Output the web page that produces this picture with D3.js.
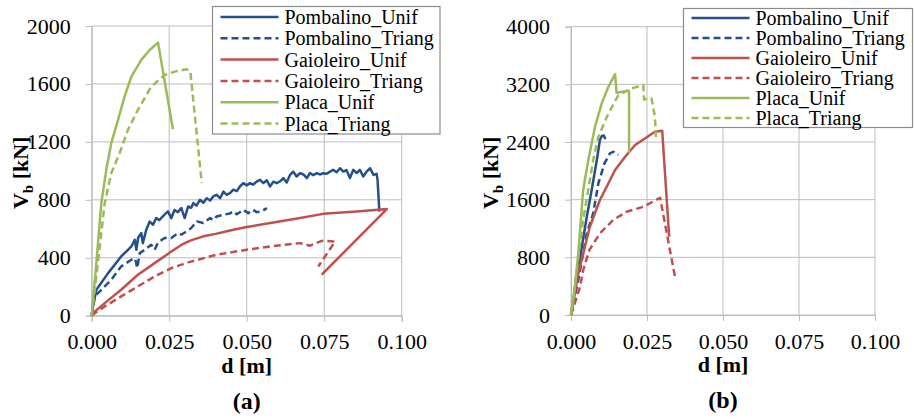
<!DOCTYPE html>
<html>
<head>
<meta charset="utf-8">
<script src="https://cdn.jsdelivr.net/npm/d3@7/dist/d3.min.js"></script>
<style>
  body { margin: 0; background: #fff; }
  text { font-family: "Liberation Serif", "Times New Roman", serif; }
</style>
</head>
<body>
<script>

// series names + colours (same for both panels)
var seriesNames = ["Pombalino_Unif","Pombalino_Triang","Gaioleiro_Unif","Gaioleiro_Triang","Placa_Unif","Placa_Triang"];
var seriesColors = ["#254f8c","#254f8c","#c0504d","#c0504d","#9bbb59","#9bbb59"];
var seriesDashed = [false,true,false,true,false,true];

var xTicks = [0, 0.025, 0.05, 0.075, 0.1];
var yTicksA = [0, 400, 800, 1200, 1600, 2000];
var yTicksB = [0, 800, 1600, 2400, 3200, 4000];

// panel (a) : [d, Vb]
var a_pombUnif = [[0,0],[0.0004,64],[0.0015,179],[0.0053,294],[0.0095,409],[0.0117,455],[0.0128,478],[0.0139,524],[0.0144,455],[0.0150,540],[0.0160,570],[0.0165,501],[0.0176,593],[0.0187,650],[0.0198,628],[0.0208,674],[0.0218,660],[0.0235,697],[0.0246,720],[0.0257,674],[0.0267,730],[0.0278,715],[0.0289,743],[0.0300,674],[0.0311,754],[0.0321,745],[0.0328,777],[0.0338,760],[0.0349,800],[0.0360,780],[0.0371,811],[0.0382,795],[0.0392,823],[0.0403,834],[0.0414,811],[0.0425,857],[0.0435,835],[0.0446,846],[0.0457,870],[0.0468,860],[0.0478,892],[0.0489,915],[0.0500,900],[0.0511,915],[0.0521,905],[0.0532,926],[0.0543,938],[0.0554,915],[0.0565,935],[0.0575,892],[0.0586,925],[0.0597,915],[0.0608,928],[0.0618,950],[0.0629,920],[0.0640,973],[0.0650,995],[0.0661,961],[0.0672,984],[0.0683,975],[0.0694,950],[0.0704,984],[0.0715,970],[0.0726,984],[0.0736,975],[0.0747,984],[0.0758,980],[0.0769,995],[0.0779,1007],[0.0790,990],[0.0801,1018],[0.0812,995],[0.0822,1005],[0.0833,950],[0.0844,1007],[0.0855,985],[0.0865,1007],[0.0876,961],[0.0887,995],[0.0898,1018],[0.0909,972],[0.0919,979],[0.0922,940],[0.0928,719]];
var a_pombTri = [[0,0],[0.0010,133],[0.0031,179],[0.0063,248],[0.0095,340],[0.0128,386],[0.0140,395],[0.0147,329],[0.0155,432],[0.0171,455],[0.0192,490],[0.0203,455],[0.0214,505],[0.0235,536],[0.0257,536],[0.0278,570],[0.0290,560],[0.0321,605],[0.0339,651],[0.0360,640],[0.0382,674],[0.0392,660],[0.0403,685],[0.0425,697],[0.0445,705],[0.0457,720],[0.0468,700],[0.0489,731],[0.0505,708],[0.0521,731],[0.0532,715],[0.0548,720],[0.0565,743]];
var a_gaiUnif = [[0,0],[0.0004,18],[0.0042,87],[0.0095,179],[0.0149,283],[0.0203,363],[0.0257,443],[0.0290,490],[0.0320,520],[0.0360,548],[0.0400,565],[0.0450,590],[0.0500,612],[0.0586,643],[0.0672,674],[0.0747,703],[0.0855,719],[0.0952,736],[0.0742,283]];
var a_gaiTri = [[0,0],[0.0010,18],[0.0042,64],[0.0095,133],[0.0149,202],[0.0203,271],[0.0257,329],[0.0311,368],[0.0343,386],[0.0400,420],[0.0500,455],[0.0580,480],[0.0672,501],[0.0704,483],[0.0742,517],[0.0785,512],[0.0731,340]];
var a_placaUnif = [[0,0],[0.0015,363],[0.0031,777],[0.0047,1007],[0.0063,1191],[0.0085,1352],[0.0106,1513],[0.0128,1651],[0.0160,1766],[0.0187,1834],[0.0214,1885],[0.0262,1287]];
var a_placaTri = [[0,0],[0.0010,179],[0.0026,478],[0.0042,777],[0.0063,984],[0.0090,1122],[0.0117,1283],[0.0149,1421],[0.0192,1581],[0.0235,1662],[0.0268,1685],[0.0305,1701],[0.0318,1690],[0.0355,915]];

// panel (b)
var b_pombUnif = [[0,0],[0.0019,531],[0.0052,1363],[0.0068,1734],[0.0085,2150],[0.0095,2427],[0.0101,2480],[0.0108,2490],[0.0113,2440]];
var b_pombTri = [[0,0],[0.0024,485],[0.0052,1133],[0.0073,1410],[0.0090,1826],[0.0110,2103],[0.0128,2242],[0.0139,2265],[0.0156,2219]];
var b_gaiUnif = [[0,0],[0.0024,578],[0.0062,1225],[0.0095,1595],[0.0112,1734],[0.0145,2011],[0.0178,2196],[0.0211,2358],[0.0243,2450],[0.0276,2543],[0.0300,2557],[0.0323,1086]];
var b_gaiTri = [[0,0],[0.0030,393],[0.0040,620],[0.0060,900],[0.0095,1133],[0.0139,1318],[0.0183,1433],[0.0238,1502],[0.0293,1627],[0.0342,531]];
var b_placaUnif = [[0,0],[0.0013,393],[0.0024,856],[0.0040,1734],[0.0057,2150],[0.0079,2612],[0.0101,2936],[0.0123,3167],[0.0145,3343],[0.0150,3083],[0.0183,3107],[0.0191,3107],[0.0191,2251]];
var b_placaTri = [[0,0],[0.0019,624],[0.0040,1318],[0.0073,2150],[0.0090,2473],[0.0123,2797],[0.0156,3051],[0.0200,3144],[0.0238,3190],[0.0240,2990],[0.0265,3005],[0.0276,2750],[0.0280,2427]];

var gridColor = "#bcbcbc";

var svg = d3.select("body").append("svg")
  .attr("width", 914)
  .attr("height", 419);

function drawPanel(p) {
  var x = d3.scaleLinear().domain([0, 0.1]).range([p.left, p.right]);
  var y = d3.scaleLinear().domain([0, p.ymax]).range([p.bottom, p.top]);
  var g = svg.append("g");

  // grid
  g.selectAll(".hgrid").data(p.yTicks).enter().append("line")
    .attr("x1", p.left).attr("x2", p.right)
    .attr("y1", function(d){ return y(d); }).attr("y2", function(d){ return y(d); })
    .attr("stroke", gridColor).attr("stroke-width", 1);
  g.selectAll(".vgrid").data(xTicks).enter().append("line")
    .attr("y1", p.top).attr("y2", p.bottom)
    .attr("x1", function(d){ return x(d); }).attr("x2", function(d){ return x(d); })
    .attr("stroke", gridColor).attr("stroke-width", 1);

  var xa = g.append("g")
    .attr("transform", "translate(0," + p.bottom + ")")
    .call(d3.axisBottom(x).tickValues(xTicks).tickSize(6).tickPadding(12).tickFormat(d3.format(".3f")));
  var ya = g.append("g")
    .attr("transform", "translate(" + p.left + ",0)")
    .call(d3.axisLeft(y).tickValues(p.yTicks).tickSize(6).tickPadding(15).tickFormat(d3.format("d")));
  [xa, ya].forEach(function(a){
    a.select(".domain").attr("stroke", gridColor);
    a.selectAll(".tick line").attr("stroke", gridColor);
    a.selectAll("text")
      .attr("font-family", "Liberation Serif, serif")
      .attr("font-size", "22px")
      .attr("fill", "#000");
  });

  // series
  var line = d3.line().x(function(d){ return x(d[0]); }).y(function(d){ return y(d[1]); });
  p.series.forEach(function(s, i){
    g.append("path")
      .attr("d", line(s))
      .attr("fill", "none")
      .attr("stroke", seriesColors[i])
      .attr("stroke-width", 2.5)
      .attr("stroke-linejoin", "round")
      .attr("stroke-dasharray", seriesDashed[i] ? "7,4" : null);
  });

  // axis titles
  g.append("text")
    .attr("x", (p.left + p.right) / 2)
    .attr("y", p.bottom + 57)
    .attr("text-anchor", "middle")
    .attr("font-weight", "bold")
    .attr("font-size", "22px")
    .text("d [m]");

  var yt = g.append("text")
    .attr("transform", "translate(" + p.ytitleX + "," + ((p.top + p.bottom) / 2 + 2) + ") rotate(-90)")
    .attr("text-anchor", "middle")
    .attr("font-weight", "bold")
    .attr("font-size", "22px");
  yt.append("tspan").text("V");
  yt.append("tspan").attr("dy", "5").attr("font-size", "15px").text("b");
  yt.append("tspan").attr("dy", "-5").text(" [kN]");

  g.append("text")
    .attr("x", (p.left + p.right) / 2)
    .attr("y", p.bottom + 93)
    .attr("text-anchor", "middle")
    .attr("font-weight", "bold")
    .attr("font-size", "24px")
    .text(p.label);

  // legend
  var lg = g.append("g");
  lg.append("rect")
    .attr("x", p.lx).attr("y", p.ly)
    .attr("width", p.lw).attr("height", p.lh)
    .attr("fill", "#fff")
    .attr("stroke", "#8c8c8c")
    .attr("stroke-width", 1.2);
  seriesNames.forEach(function(n, i){
    var cy = p.ly + p.lrow0 + i * p.lstep;
    lg.append("line")
      .attr("x1", p.lx + 8).attr("x2", p.lx + 66)
      .attr("y1", cy).attr("y2", cy)
      .attr("stroke", seriesColors[i])
      .attr("stroke-width", 2.5)
      .attr("stroke-dasharray", seriesDashed[i] ? "7,4" : null);
    lg.append("text")
      .attr("x", p.lx + 72)
      .attr("y", cy + 7)
      .attr("font-size", "20px")
      .text(n);
  });
}

drawPanel({
  left: 91.7, right: 401.7, top: 26, bottom: 315.7, ymax: 2000, yTicks: yTicksA,
  ytitleX: 28, label: "(a)",
  lx: 212.5, ly: 6.5, lw: 227.5, lh: 127.5, lrow0: 10.5, lstep: 21.3,
  series: [a_pombUnif, a_pombTri, a_gaiUnif, a_gaiTri, a_placaUnif, a_placaTri]
});

drawPanel({
  left: 571, right: 875, top: 26.7, bottom: 315, ymax: 4000, yTicks: yTicksB,
  ytitleX: 498, label: "(b)",
  lx: 683.5, ly: 8.5, lw: 229, lh: 119, lrow0: 9.5, lstep: 20,
  series: [b_pombUnif, b_pombTri, b_gaiUnif, b_gaiTri, b_placaUnif, b_placaTri]
});

</script>
</body>
</html>
